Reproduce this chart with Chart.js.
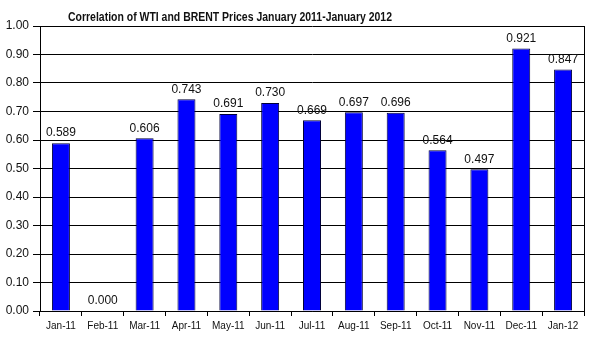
<!DOCTYPE html>
<html lang="en">
<head>
<meta charset="UTF-8">
<title>Correlation of WTI and BRENT Prices</title>
<script src="https://cdn.jsdelivr.net/npm/chart.js"></script>
<style>
  html, body { margin: 0; padding: 0; background: #fff; }
  #wrap { width: 607px; height: 353px; }
</style>
</head>
<body>
<div id="wrap"><canvas id="myChart" width="607" height="353"></canvas></div>
<script>
// data
const titleText = 'Correlation of WTI and BRENT Prices January 2011-January 2012';
const months = ['Jan-11', 'Feb-11', 'Mar-11', 'Apr-11', 'May-11', 'Jun-11', 'Jul-11',
                'Aug-11', 'Sep-11', 'Oct-11', 'Nov-11', 'Dec-11', 'Jan-12'];
const correlation = [0.589, 0.000, 0.606, 0.743, 0.691, 0.730, 0.669,
                     0.697, 0.696, 0.564, 0.497, 0.921, 0.847];
const yMin = 0, yMax = 1, yStep = 0.1;

const FONT = "'Liberation Sans', Arial, sans-serif";

// value labels above bars + title + right border
const extras = {
    id: 'extras',
    afterDatasetsDraw(chart) {
        const ctx = chart.ctx;
        const area = chart.chartArea;
        ctx.save();
        // right border of plot
        ctx.strokeStyle = '#000';
        ctx.lineWidth = 1;
        ctx.beginPath();
        ctx.moveTo(Math.round(area.right) + 0.5, area.top);
        ctx.lineTo(Math.round(area.right) + 0.5, area.bottom);
        ctx.stroke();

        ctx.fillStyle = '#111';
        ctx.font = '12px ' + FONT;
        ctx.textAlign = 'center';
        ctx.textBaseline = 'bottom';
        chart.getDatasetMeta(0).data.forEach((bar, i) => {
            ctx.fillText(correlation[i].toFixed(3), bar.x, bar.y - 4);
        });

        // title (squeezed like the original)
        ctx.font = 'bold 12px ' + FONT;
        ctx.textAlign = 'left';
        ctx.textBaseline = 'alphabetic';
        const w = ctx.measureText(titleText).width;
        ctx.translate(68, 21);
        ctx.scale(324 / w, 1);
        ctx.fillText(titleText, 0, 0);
        ctx.restore();
    }
};

const ctx = document.getElementById('myChart').getContext('2d');
const myChart = new Chart(ctx, {
    type: 'bar',
    data: {
        labels: months,
        datasets: [{
            data: correlation,
            backgroundColor: '#0000ff',
            borderColor: '#00003a',
            borderWidth: 1,
            categoryPercentage: 1,
            barPercentage: 0.43
        }]
    },
    options: {
        responsive: false,
        animation: false,
        layout: { padding: { top: 26, right: 23, left: 0, bottom: 0 } },
        plugins: {
            legend: { display: false },
            tooltip: { enabled: false }
        },
        scales: {
            x: {
                grid: {
                    display: true,
                    drawOnChartArea: false,
                    color: '#000',
                    tickLength: 5,
                    offset: true
                },
                border: { color: '#000' },
                ticks: {
                    color: '#111',
                    font: { family: FONT, size: 10 },
                    maxRotation: 0,
                    autoSkip: false,
                    padding: 4
                },
                afterFit(scale) { scale.height = 42; }
            },
            y: {
                min: yMin,
                max: yMax,
                grid: { color: '#000', tickLength: 7 },
                border: { color: '#000' },
                ticks: {
                    stepSize: yStep,
                    color: '#111',
                    font: { family: FONT, size: 12 },
                    padding: 4,
                    callback: v => v.toFixed(2)
                },
                afterFit(scale) { scale.width = 40; }
            }
        }
    },
    plugins: [extras]
});
</script>
</body>
</html>
